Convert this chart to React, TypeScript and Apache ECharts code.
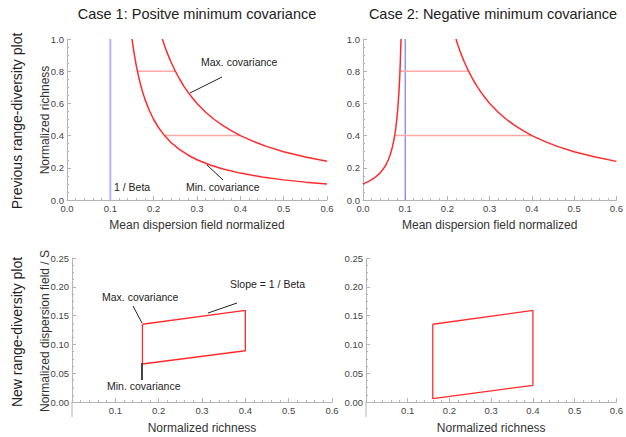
import React, { useEffect, useRef } from "react";
import * as echarts from "echarts";

// Top row: richness vs mean dispersion field
const maxCurve: number[][] = [
  [0.22, 1.0], [0.225, 0.96], [0.23, 0.923], [0.235, 0.889], [0.24, 0.857], [0.25, 0.8],
  [0.26, 0.75], [0.27, 0.706], [0.28, 0.667], [0.29, 0.632], [0.3, 0.6], [0.32, 0.545],
  [0.34, 0.5], [0.36, 0.462], [0.38, 0.429], [0.4, 0.4], [0.43, 0.364], [0.46, 0.333],
  [0.5, 0.3], [0.55, 0.267], [0.6, 0.24],
];
const minCurvePositive: number[][] = [
  [0.15, 1.0], [0.1525, 0.952], [0.155, 0.909], [0.1575, 0.87], [0.16, 0.833], [0.1625, 0.8],
  [0.165, 0.769], [0.17, 0.714], [0.175, 0.667], [0.18, 0.625], [0.19, 0.556], [0.2, 0.5],
  [0.21, 0.455], [0.225, 0.4], [0.24, 0.357], [0.26, 0.313], [0.28, 0.278], [0.3, 0.25],
  [0.33, 0.217], [0.36, 0.192], [0.4, 0.167], [0.45, 0.143], [0.5, 0.125], [0.55, 0.111],
  [0.6, 0.1],
];
const minCurveNegative: number[][] = [
  [0.0, 0.1], [0.01, 0.111], [0.02, 0.125], [0.03, 0.143], [0.04, 0.167], [0.05, 0.2],
  [0.055, 0.222], [0.06, 0.25], [0.065, 0.286], [0.07, 0.333], [0.0725, 0.364], [0.075, 0.4],
  [0.0775, 0.444], [0.08, 0.5], [0.0825, 0.571], [0.085, 0.667], [0.0865, 0.741],
  [0.0875, 0.8], [0.0885, 0.87], [0.09, 1.0],
];
const guidesCase1: number[][][] = [
  [[0.1625, 0.8], [0.25, 0.8]],
  [[0.225, 0.4], [0.4, 0.4]],
];
const guidesCase2: number[][][] = [
  [[0.0875, 0.8], [0.25, 0.8]],
  [[0.075, 0.4], [0.4, 0.4]],
];
const inverseBeta: number[][] = [[0.1, 0], [0.1, 1]];

// Bottom row: dispersion field / S vs richness
const boxCase1: number[][] = [
  [0.1625, 0.135], [0.4, 0.159], [0.4, 0.089], [0.1625, 0.066], [0.1625, 0.135],
];
const boxCase2: number[][] = [
  [0.16, 0.135], [0.4, 0.159], [0.4, 0.029], [0.16, 0.006], [0.16, 0.135],
];

const colTitles = ["Case 1: Positve minimum covariance", "Case 2: Negative minimum covariance"];
const rowTitles = ["Previous range-diversity plot", "New range-diversity plot"];
const topYTitle = "Normalized richness";
const bottomYTitle = "Normalized dispersion field / S";

const FONT = "Liberation Sans, Arial, sans-serif";
const AXIS_GRAY = "#b4b4b4";
const LABEL = "#444";
const RED = "#ff2b2b";
const PINK = "#ffa8a8";

function xAxis(gridIndex: number, name: string, hideZero: boolean, gap: number) {
  return {
    type: "value",
    gridIndex,
    min: 0,
    max: 0.6,
    interval: 0.1,
    name,
    nameLocation: "middle",
    nameGap: gap,
    nameTextStyle: { fontFamily: FONT, fontSize: 12, color: "#333" },
    axisLine: { show: true, onZero: false, lineStyle: { color: AXIS_GRAY, width: 1 } },
    axisTick: { show: true, inside: true, length: 4, lineStyle: { color: AXIS_GRAY } },
    minorTick: { show: true, splitNumber: 5, length: 2, lineStyle: { color: AXIS_GRAY } },
    splitLine: { show: false },
    axisLabel: {
      fontFamily: FONT,
      fontSize: 9.5,
      color: LABEL,
      margin: 3,
      formatter: (v: number) => (hideZero && v === 0 ? "" : v.toFixed(1)),
    },
  };
}

function yAxis(gridIndex: number, max: number, interval: number, digits: number) {
  return {
    type: "value",
    gridIndex,
    min: 0,
    max,
    interval,
    axisLine: { show: true, onZero: false, lineStyle: { color: AXIS_GRAY, width: 1 } },
    axisTick: { show: true, inside: true, length: 4, lineStyle: { color: AXIS_GRAY } },
    minorTick: { show: true, splitNumber: 4, length: 2, lineStyle: { color: AXIS_GRAY } },
    splitLine: { show: false },
    axisLabel: {
      fontFamily: FONT,
      fontSize: 9.5,
      color: LABEL,
      margin: 3,
      formatter: (v: number) => v.toFixed(digits),
    },
  };
}

function polyLine(data: number[][], axis: number, color: string, width: number) {
  return {
    type: "line",
    xAxisIndex: axis,
    yAxisIndex: axis,
    data,
    showSymbol: false,
    symbol: "none",
    lineStyle: { color, width },
    silent: true,
    z: 2,
  };
}

function txt(x: number, y: number, text: string, size: number, opts: any = {}) {
  return {
    type: "text",
    x,
    y,
    rotation: opts.rotation || 0,
    style: {
      text,
      fontFamily: FONT,
      fontSize: size,
      fill: opts.fill || "#222",
      align: opts.align || "left",
      verticalAlign: "middle",
    },
    z: 10,
  };
}

function seg(x1: number, y1: number, x2: number, y2: number, color = "#222", width = 1) {
  return {
    type: "line",
    shape: { x1, y1, x2, y2 },
    style: { stroke: color, lineWidth: width },
    z: 10,
  };
}

export default function App() {
  const ref = useRef<HTMLDivElement>(null);
  useEffect(() => {
    if (!ref.current) return;
    const chart = echarts.init(ref.current, null, { renderer: "svg" });
    const option: any = {
      animation: false,
      backgroundColor: "#fff",
      grid: [
        { left: 67, top: 39, width: 260, height: 161 },
        { left: 363, top: 39, width: 260, height: 161 },
        { left: 72, top: 258, width: 260, height: 144 },
        { left: 366, top: 258, width: 260, height: 144 },
      ],
      xAxis: [
        xAxis(0, "Mean dispersion field normalized", false, 19),
        xAxis(1, "Mean dispersion field normalized", false, 19),
        xAxis(2, "Normalized richness", true, 20),
        xAxis(3, "Normalized richness", true, 20),
      ],
      yAxis: [
        yAxis(0, 1, 0.2, 1),
        yAxis(1, 1, 0.2, 1),
        yAxis(2, 0.25, 0.05, 2),
        yAxis(3, 0.25, 0.05, 2),
      ],
      series: [
        polyLine(inverseBeta, 0, "#b3b6fa", 2),
        polyLine(guidesCase1[0], 0, PINK, 1.5),
        polyLine(guidesCase1[1], 0, PINK, 1.5),
        polyLine(maxCurve, 0, RED, 1.5),
        polyLine(minCurvePositive, 0, RED, 1.5),
        polyLine(inverseBeta, 1, "#7a7cf5", 1.2),
        polyLine(guidesCase2[0], 1, PINK, 1.5),
        polyLine(guidesCase2[1], 1, PINK, 1.5),
        polyLine(maxCurve, 1, RED, 1.5),
        polyLine(minCurveNegative, 1, RED, 1.5),
        polyLine(boxCase1, 2, RED, 1.3),
        polyLine(boxCase2, 3, RED, 1.3),
      ],
      graphic: [
        txt(197, 14, colTitles[0], 14.5, { align: "center" }),
        txt(493, 14, colTitles[1], 14.5, { align: "center" }),
        txt(17, 121, rowTitles[0], 14, { align: "center", rotation: Math.PI / 2 }),
        txt(17, 332, rowTitles[1], 14, { align: "center", rotation: Math.PI / 2 }),
        txt(45, 120, topYTitle, 12, { align: "center", rotation: Math.PI / 2, fill: "#333" }),
        txt(45, 331, bottomYTitle, 12, { align: "center", rotation: Math.PI / 2, fill: "#333" }),
        // bottom y-axes extend a little below zero
        seg(72, 402, 72, 417, AXIS_GRAY, 1),
        seg(366, 402, 366, 417, AXIS_GRAY, 1),
        // annotations, case 1 top
        txt(201, 62, "Max. covariance", 10.5),
        seg(190, 93, 222, 77),
        txt(186, 187, "Min. covariance", 10.5),
        seg(207, 165, 223, 180),
        txt(114, 187, "1 / Beta", 10.5),
        // annotations, case 1 bottom
        txt(230, 284, "Slope = 1 / Beta", 10.5),
        seg(208, 313, 237, 303),
        txt(102, 297, "Max. covariance", 10.5),
        seg(133, 306, 142, 323),
        txt(107, 386, "Min. covariance", 10.5),
        seg(142, 363, 142, 380, "#444", 2),
      ],
    };
    chart.setOption(option);
    return () => chart.dispose();
  }, []);
  return (
    <div
      ref={ref}
      style={{ position: "fixed", left: 0, top: 0, width: 626, height: 437 }}
    />
  );
}
